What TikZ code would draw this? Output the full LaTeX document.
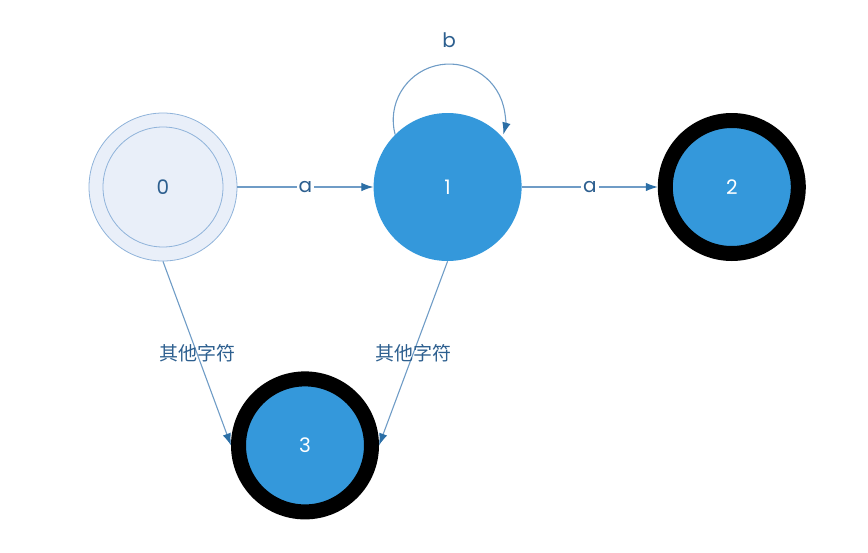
\documentclass[tikz,border=0pt]{standalone}
\usepackage{fontspec}
\setmainfont{Poppins}
\newfontfamily\cjk{Noto Sans CJK SC}
\usepackage{xcolor}
\usepackage{tikz}
\usetikzlibrary{arrows.meta, positioning}
\definecolor{stateblue}{HTML}{3498DB}
\definecolor{startfill}{HTML}{E9EFF9}
\definecolor{startline}{HTML}{8FB3DA}
\definecolor{edgeline}{HTML}{6F9CC6}
\definecolor{tipblue}{HTML}{2C6FA6}
\definecolor{textblue}{HTML}{2D5F8F}
\tikzset{
  start/.style={circle, draw=startline, fill=startfill, line width=0.8pt,
                minimum size=148pt, inner sep=0pt, text=textblue,
                font=\fontsize{20}{24}\selectfont,
                path picture={\draw[startline, line width=0.8pt]
                  (path picture bounding box.center) circle (60pt);}},
  state/.style={circle, fill=stateblue, minimum size=148pt, inner sep=0pt,
                text=white, font=\fontsize{20}{24}\selectfont},
  final/.style={circle, draw=black, fill=stateblue, line width=15pt,
                minimum size=133pt, inner sep=0pt, text=white,
                font=\fontsize{20}{24}\selectfont},
  edge/.style={-{Latex[length=12pt, width=8.5pt, color=tipblue]},
               draw=edgeline, line width=1.1pt},
  lbl/.style={text=textblue, font=\fontsize{20}{24}\selectfont, inner sep=2pt},
  cjklbl/.style={text=textblue, font=\cjk\fontsize{19}{22}\selectfont, inner sep=0pt},
}
\begin{document}
\begin{tikzpicture}[node distance=136pt]
  \useasboundingbox (0,0) rectangle (868pt,-552pt);
  % states
  \node[start] (n0) at (163pt,-187pt) {0};
  \node[state, right=of n0] (n1) {1};
  \node[final, right=of n1] (n2) {2};
  \node[final, below=110pt of n0, xshift=142pt] (n3) {3};

  % transitions on a
  \draw[edge] (n0) -- node[lbl, fill=white] {a} (n1);
  \draw[edge] (n1) -- node[lbl, fill=white] {a} (n2);

  % loop on b
  \draw[edge] (n1.135) arc[start angle=195, end angle=-15, radius=56pt]
    node[pos=0.5, above=14pt, lbl] {b};

  % other characters
  \draw[edge] (n0.south) -- node[cjklbl] {其他字符} (n3.west);
  \draw[edge] (n1.south) -- node[cjklbl] {其他字符} (n3.east);
\end{tikzpicture}
\end{document}
